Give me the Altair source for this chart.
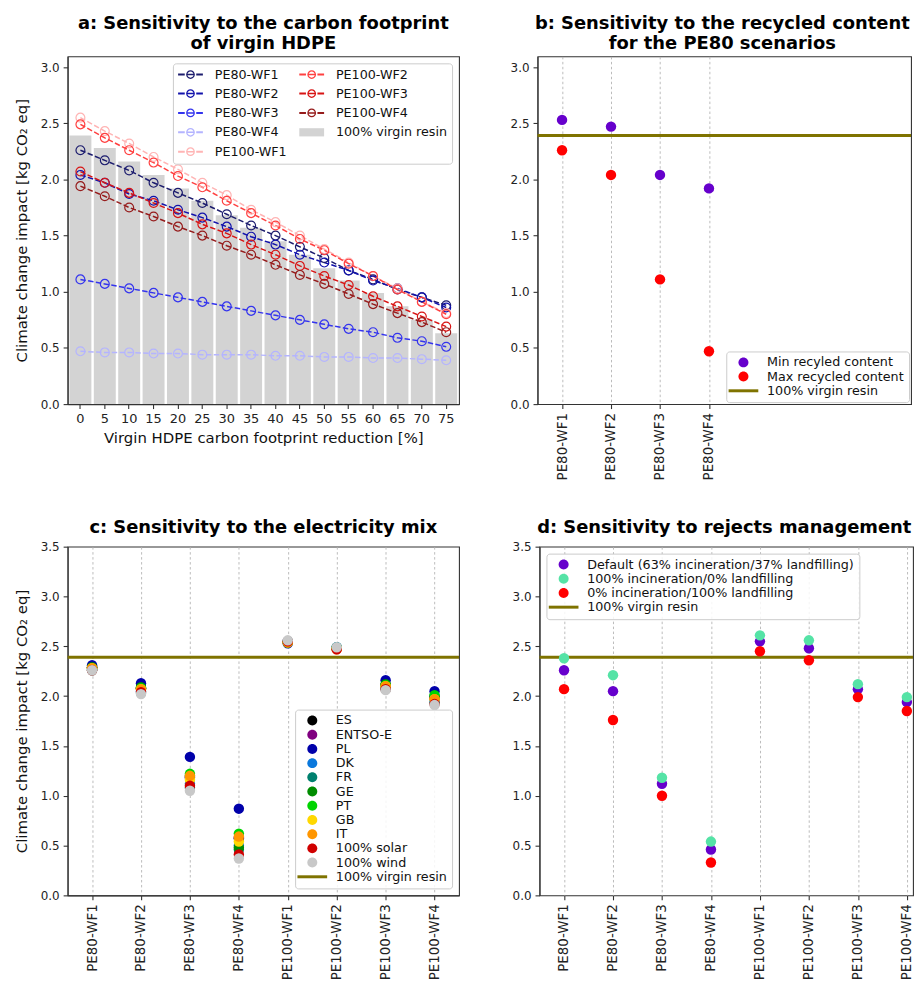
import altair as alt
import pandas as pd

FONT = "DejaVu Sans"

# ---------------- data ----------------
reduction = [0, 5, 10, 15, 20, 25, 30, 35, 40, 45, 50, 55, 60, 65, 70, 75]
virgin_bars = [2.39, 2.28, 2.16, 2.04, 1.92, 1.81, 1.68, 1.57, 1.45, 1.33, 1.21, 1.10, 0.99, 0.87, 0.75, 0.63]

pe80_wf1 = [2.26, 2.17, 2.08, 1.97, 1.88, 1.79, 1.69, 1.59, 1.50, 1.40, 1.30, 1.19, 1.11, 1.02, 0.95, 0.88]
pe80_wf2 = [2.04, 1.97, 1.87, 1.81, 1.73, 1.66, 1.58, 1.49, 1.42, 1.33, 1.26, 1.19, 1.10, 1.03, 0.95, 0.86]
pe80_wf3 = [1.11, 1.07, 1.03, 0.99, 0.95, 0.91, 0.87, 0.83, 0.79, 0.75, 0.71, 0.67, 0.64, 0.59, 0.56, 0.51]
pe80_wf4 = [0.47, 0.46, 0.46, 0.45, 0.45, 0.44, 0.44, 0.44, 0.43, 0.43, 0.42, 0.42, 0.41, 0.41, 0.40, 0.39]
pe100_wf1 = [2.55, 2.43, 2.32, 2.20, 2.09, 1.97, 1.86, 1.73, 1.62, 1.50, 1.38, 1.26, 1.14, 1.03, 0.91, 0.81]
pe100_wf2 = [2.49, 2.37, 2.26, 2.15, 2.03, 1.93, 1.81, 1.70, 1.59, 1.47, 1.37, 1.25, 1.14, 1.02, 0.91, 0.80]
pe100_wf3 = [2.07, 1.97, 1.88, 1.79, 1.70, 1.60, 1.52, 1.42, 1.33, 1.23, 1.14, 1.06, 0.96, 0.87, 0.78, 0.69]
pe100_wf4 = [1.94, 1.85, 1.75, 1.67, 1.58, 1.50, 1.41, 1.33, 1.24, 1.15, 1.07, 0.98, 0.89, 0.81, 0.73, 0.64]

a_names = ["PE80-WF1", "PE80-WF2", "PE80-WF3", "PE80-WF4",
           "PE100-WF1", "PE100-WF2", "PE100-WF3", "PE100-WF4"]
a_values = [pe80_wf1, pe80_wf2, pe80_wf3, pe80_wf4, pe100_wf1, pe100_wf2, pe100_wf3, pe100_wf4]
a_colors = ["#1c1c6e", "#1212ac", "#3434ee", "#b4b4ff", "#ffb4b4", "#ff4040", "#d81414", "#961c1c"]
bar_label = "100% virgin resin"
bar_color = "#d3d3d3"

scenarios = ["PE80-WF1", "PE80-WF2", "PE80-WF3", "PE80-WF4",
             "PE100-WF1", "PE100-WF2", "PE100-WF3", "PE100-WF4"]
virgin_resin = 2.39
virgin_color = "#7f7300"

b_names = ["Min recyled content", "Max recycled content"]
b_min = [2.53, 2.47, 2.04, 1.92]
b_max = [2.26, 2.04, 1.11, 0.47]
b_colors = ["#6600cc", "#ff0000"]

mixes = ["ES", "ENTSO-E", "PL", "DK", "FR", "GE", "PT", "GB", "IT", "100% solar", "100% wind"]
mix_colors = ["#000000", "#800080", "#0000aa", "#0a78dc", "#00806e", "#008c00",
              "#00d400", "#ffd800", "#ff9600", "#d00000", "#c8c8c8"]
c_es = [2.29, 2.08, 1.18, 0.57, 2.55, 2.48, 2.11, 1.98]
c_entsoe = [2.29, 2.08, 1.19, 0.58, 2.55, 2.48, 2.11, 1.99]
c_pl = [2.31, 2.13, 1.39, 0.87, 2.53, 2.48, 2.16, 2.05]
c_dk = [2.27, 2.05, 1.12, 0.50, 2.55, 2.49, 2.08, 1.95]
c_fr = [2.26, 2.03, 1.08, 0.46, 2.55, 2.49, 2.07, 1.93]
c_ge = [2.29, 2.09, 1.20, 0.48, 2.54, 2.48, 2.12, 2.00]
c_pt = [2.28, 2.08, 1.22, 0.62, 2.54, 2.48, 2.11, 2.01]
c_gb = [2.28, 2.07, 1.16, 0.54, 2.54, 2.48, 2.10, 1.97]
c_it = [2.28, 2.07, 1.20, 0.59, 2.54, 2.47, 2.10, 1.97]
c_solar = [2.26, 2.04, 1.10, 0.41, 2.55, 2.47, 2.07, 1.92]
c_wind = [2.26, 2.02, 1.05, 0.37, 2.56, 2.49, 2.06, 1.91]
c_values = [c_es, c_entsoe, c_pl, c_dk, c_fr, c_ge, c_pt, c_gb, c_it, c_solar, c_wind]

d_names = ["Default (63% incineration/37% landfilling)",
           "100% incineration/0% landfilling",
           "0% incineration/100% landfilling"]
d_default = [2.26, 2.05, 1.12, 0.46, 2.55, 2.48, 2.07, 1.94]
d_incineration = [2.38, 2.21, 1.18, 0.54, 2.61, 2.56, 2.12, 1.99]
d_landfill = [2.07, 1.76, 1.00, 0.33, 2.45, 2.36, 1.99, 1.85]
d_values = [d_default, d_incineration, d_landfill]
d_colors = ["#6600cc", "#55e3a6", "#ff0000"]

# ---------------- legend symbol paths ----------------
# panel a: symbol unit = 5.5 px  (symbolSize 121)
HANDLE = ("M-2.27,-0.18H-1.05V0.18H-2.27Z M1.05,-0.18H2.27V0.18H1.05Z "
          "M-0.8,0A0.8,0.8 0 1,1 0.8,0A0.8,0.8 0 1,1 -0.8,0Z "
          "M-0.57,0A0.57,0.57 0 1,0 0.57,0A0.57,0.57 0 1,0 -0.57,0Z "
          "M-0.6,-0.14H0.6V0.14H-0.6Z")
BARBOX = "M-2.27,-0.75H2.27V0.75H-2.27Z"
# panels b-d: symbol unit = 6.5 px (symbolSize 169)
DOT = "M-0.77,0A0.77,0.77 0 1,1 0.77,0A0.77,0.77 0 1,1 -0.77,0Z"
RULE = "M-2.3,-0.23H2.3V0.23H-2.3Z"

TITLE_KW = dict(font=FONT, fontSize=18, fontWeight="bold", anchor="middle",
                frame="group", offset=3.5, lineHeight=20.5, color="black")


def leg(orient, row_pad, size, sym_offset, label_offset, offset=7, columns=None, col_pad=None):
    kw = dict(orient=orient, offset=offset, title=None, symbolSize=size, rowPadding=row_pad,
              symbolOffset=sym_offset, labelOffset=label_offset, padding=4.5,
              symbolStrokeWidth=0, labelFont=FONT, labelFontSize=12.8, labelColor="#111",
              fillColor="rgba(255,255,255,0.85)", strokeColor="#cccccc", cornerRadius=3,
              symbolOpacity=1, labelLimit=400)
    if columns:
        kw["columns"] = columns
        kw["columnPadding"] = col_pad
    return alt.Legend(**kw)


def y_axis(values, title=None):
    return alt.Axis(values=values, format=".1f", tickSize=4.5, labelPadding=4, grid=False,
                    title=title, titlePadding=11)


Y_TITLE = "Climate change impact [kg CO₂ eq]"

# ---------------- panel a ----------------
bar_df = pd.DataFrame({"reduction": reduction, "value": virgin_bars})
rows = []
for name, vals in zip(a_names, a_values):
    for r, v in zip(reduction, vals):
        rows.append({"reduction": r, "value": v, "series": name})
line_df = pd.DataFrame(rows)

a_legend_order = a_names + [bar_label]
color_of = dict(zip(a_names, a_colors))
color_of[bar_label] = bar_color
a_leg_fill = [color_of[n] for n in a_legend_order]
a_leg_shape = [BARBOX if n == bar_label else HANDLE for n in a_legend_order]
a_leg_df = pd.DataFrame({"series": a_legend_order, "reduction": [0] * 9, "value": [None] * 9})

xa = alt.X("reduction:O", sort=reduction,
           scale=alt.Scale(type="band", paddingInner=0.1, paddingOuter=0.075),
           axis=alt.Axis(title="Virgin HDPE carbon footprint reduction [%]", labelAngle=0,
                         labelFontSize=13, tickSize=4.5, labelPadding=4, titlePadding=5))
ya = alt.Y("value:Q", scale=alt.Scale(domain=[0, 3.095], nice=False),
           axis=y_axis([0, 0.5, 1.0, 1.5, 2.0, 2.5, 3.0], Y_TITLE))
a_stroke = alt.Stroke("series:N", scale=alt.Scale(domain=a_names, range=a_colors), legend=None)

a_bars = alt.Chart(bar_df).mark_bar(color=bar_color).encode(x=xa, y=ya)
a_lines = alt.Chart(line_df).mark_line(strokeDash=[5.5, 2.4], strokeWidth=1.5).encode(
    x=xa, y=ya, stroke=a_stroke)
a_pts = alt.Chart(line_df).mark_point(filled=False, size=80, strokeWidth=1.2, opacity=1).encode(
    x=xa, y=ya, stroke=a_stroke)
a_leg_legend = leg("top-right", 5.5, 121, 6.8, 18, columns=2, col_pad=11)
a_leg = alt.Chart(a_leg_df).mark_point(filled=True, clip=True).encode(
    x=xa, y=ya,
    fill=alt.Fill("series:N", scale=alt.Scale(domain=a_legend_order, range=a_leg_fill),
                  legend=a_leg_legend),
    shape=alt.Shape("series:N", scale=alt.Scale(domain=a_legend_order, range=a_leg_shape),
                    legend=a_leg_legend))
panel_a = alt.layer(a_bars, a_lines, a_pts, a_leg).properties(
    width=394, height=350,
    title=alt.Title(["a: Sensitivity to the carbon footprint", "of virgin HDPE"], **TITLE_KW))

# ---------------- helpers for b/c/d ----------------
BD_WIDTH = 376
XLAB = dict(title=None, labelAngle=-90, labelFontSize=13.5, tickSize=4.5, labelPadding=4,
            grid=True, gridDash=[2.5, 2.5], gridColor="#b4b4b4", gridWidth=0.9)


def x_scen(values):
    return alt.X("scenario:N",
                 scale=alt.Scale(type="point", domain=scenarios, padding=0, range=[24.7, 369.8]),
                 axis=alt.Axis(values=values, domain=False, **XLAB))


def rule_layer(yenc):
    return alt.Chart(pd.DataFrame({"value": [virgin_resin]})).mark_rule(
        color=virgin_color, strokeWidth=3).encode(y=yenc)


def legend_layer(names, colors, xenc, yenc, legend):
    order = names + [bar_label]
    fills = colors + [virgin_color]
    shapes = [DOT] * len(names) + [RULE]
    df = pd.DataFrame({"series": order, "scenario": [scenarios[0]] * len(order),
                       "value": [None] * len(order)})
    return alt.Chart(df).mark_point(filled=True, clip=True).encode(
        x=xenc, y=yenc,
        fill=alt.Fill("series:N", scale=alt.Scale(domain=order, range=fills), legend=legend),
        shape=alt.Shape("series:N", scale=alt.Scale(domain=order, range=shapes), legend=legend))


def point_layer(names, value_lists, colors, xenc, yenc):
    rows = []
    for name, vals in zip(names, value_lists):
        for s, v in zip(scenarios, vals):
            rows.append({"scenario": s, "value": v, "series": name})
    df = pd.DataFrame(rows)
    return alt.Chart(df).mark_circle(size=110, opacity=1).encode(
        x=xenc, y=yenc,
        color=alt.Color("series:N", scale=alt.Scale(domain=names, range=colors), legend=None))


def small_legend(orient, offset=7):
    return leg(orient, 0.3, 169, 6.3, 17.2, offset=offset)


TITLE_R = dict(TITLE_KW, dx=-2)

# ---------------- panel b ----------------
xb = x_scen(scenarios[:4])
yb = alt.Y("value:Q", scale=alt.Scale(domain=[0, 3.095], nice=False),
           axis=y_axis([0, 0.5, 1.0, 1.5, 2.0, 2.5, 3.0]))
panel_b = alt.layer(
    rule_layer(yb),
    point_layer(b_names, [b_min, b_max], b_colors, xb, yb),
    legend_layer(b_names, b_colors, xb, yb, small_legend("bottom-right", 2)),
).properties(width=BD_WIDTH, height=350,
             title=alt.Title(["b: Sensitivity to the recycled content", "for the PE80 scenarios"],
                             **TITLE_R))

# ---------------- panel c ----------------
yc = alt.Y("value:Q", scale=alt.Scale(domain=[0, 3.5], nice=False),
           axis=y_axis([0, 0.5, 1.0, 1.5, 2.0, 2.5, 3.0, 3.5], Y_TITLE))
xc = alt.X("scenario:N",
           scale=alt.Scale(type="point", domain=scenarios, padding=0.5),
           axis=alt.Axis(**XLAB))
panel_c = alt.layer(
    rule_layer(yc),
    point_layer(mixes, c_values, mix_colors, xc, yc),
    legend_layer(mixes, mix_colors, xc, yc, small_legend("bottom-right")),
).properties(width=394, height=351,
             title=alt.Title("c: Sensitivity to the electricity mix", **TITLE_KW))

# ---------------- panel d ----------------
xd = x_scen(scenarios)
yd = alt.Y("value:Q", scale=alt.Scale(domain=[0, 3.5], nice=False),
           axis=y_axis([0, 0.5, 1.0, 1.5, 2.0, 2.5, 3.0, 3.5]))
panel_d = alt.layer(
    rule_layer(yd),
    point_layer(d_names, d_values, d_colors, xd, yd),
    legend_layer(d_names, d_colors, xd, yd, small_legend("top-left")),
).properties(width=BD_WIDTH, height=351,
             title=alt.Title("d: Sensitivity to rejects management", **TITLE_R))

RES = dict(color="independent", fill="independent", shape="independent", stroke="independent")

row1 = alt.hconcat(panel_a, panel_b, spacing=49).resolve_scale(**RES).resolve_legend(
    fill="independent", shape="independent")
row2 = alt.hconcat(panel_c, panel_d, spacing=49).resolve_scale(**RES).resolve_legend(
    fill="independent", shape="independent")

PAD = {"left": 5, "top": 2.5, "right": 0, "bottom": 0}
chart = alt.vconcat(row1, row2, spacing=37.5).resolve_scale(**RES).resolve_legend(
    fill="independent", shape="independent").properties(
    padding=PAD
).configure(
    font=FONT, padding=PAD
).configure_axis(
    labelFont=FONT, titleFont=FONT, labelFontSize=12, titleFontSize=15,
    titleFontWeight="normal", labelColor="#222222", titleColor="#111111",
    domainColor="#333333", tickColor="#333333", domainWidth=1.1, tickWidth=1.1
).configure_view(stroke="#333333", strokeWidth=1.1)

chart.save("out.html", embed_options={"renderer": "svg", "actions": False})
